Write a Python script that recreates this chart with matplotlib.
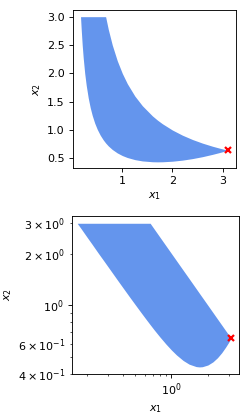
import matplotlib
matplotlib.use("Agg")
from matplotlib import pyplot as plt

# boundary of the feasible region
x1 = [0.167, 0.18, 0.2, 0.22, 0.25, 0.28, 0.32, 0.36, 0.4, 0.45, 0.5, 0.56,
      0.62, 0.667, 0.72, 0.8, 0.9, 1.0, 1.1, 1.25, 1.4, 1.6, 1.7, 1.8, 2.0,
      2.2, 2.4, 2.6, 2.8, 2.95, 3.05, 3.107]
x2_low = [2.99, 2.78, 2.50, 2.275, 2.00, 1.79, 1.568, 1.395, 1.258, 1.121,
          1.013, 0.909, 0.826, 0.772, 0.720, 0.657, 0.596, 0.55, 0.515, 0.478,
          0.455, 0.4405, 0.4386, 0.4398, 0.45, 0.469, 0.496, 0.530, 0.571,
          0.605, 0.629, 0.644]
x2_high = [3.0, 3.0, 3.0, 3.0, 3.0, 3.0, 3.0, 3.0, 3.0, 3.0, 3.0, 3.0, 3.0,
           3.0, 2.778, 2.5, 2.222, 2.0, 1.818, 1.6, 1.429, 1.25, 1.176, 1.111,
           1.0, 0.909, 0.833, 0.769, 0.714, 0.678, 0.656, 0.644]
opt = (3.107, 0.644)

fig = plt.figure(figsize=(246/80, 416/80), dpi=80)

ax1 = fig.add_axes([0.2955, 0.596, 0.664, 0.380])
ax1.fill_between(x1, x2_low, x2_high, color="cornflowerblue", linewidth=0)
ax1.plot(*opt, "x", color="red", ms=6, mew=2)
ax1.set_xlim(0.01, 3.27)
ax1.set_ylim(0.329, 3.118)
ax1.set_xlabel("$x_1$")
ax1.set_ylabel("$x_2$")

ax2 = fig.add_axes([0.2915, 0.101, 0.6815, 0.3805])
ax2.fill_between(x1, x2_low, x2_high, color="cornflowerblue", linewidth=0)
ax2.plot(*opt, "x", color="red", ms=6, mew=2)
ax2.set_xscale("log")
ax2.set_yscale("log")
ax2.set_xlim(0.150, 3.64)
ax2.set_ylim(0.399, 3.32)
ax2.set_xlabel("$x_1$")
ax2.set_ylabel("$x_2$")

plt.savefig("out.png", dpi=80)
